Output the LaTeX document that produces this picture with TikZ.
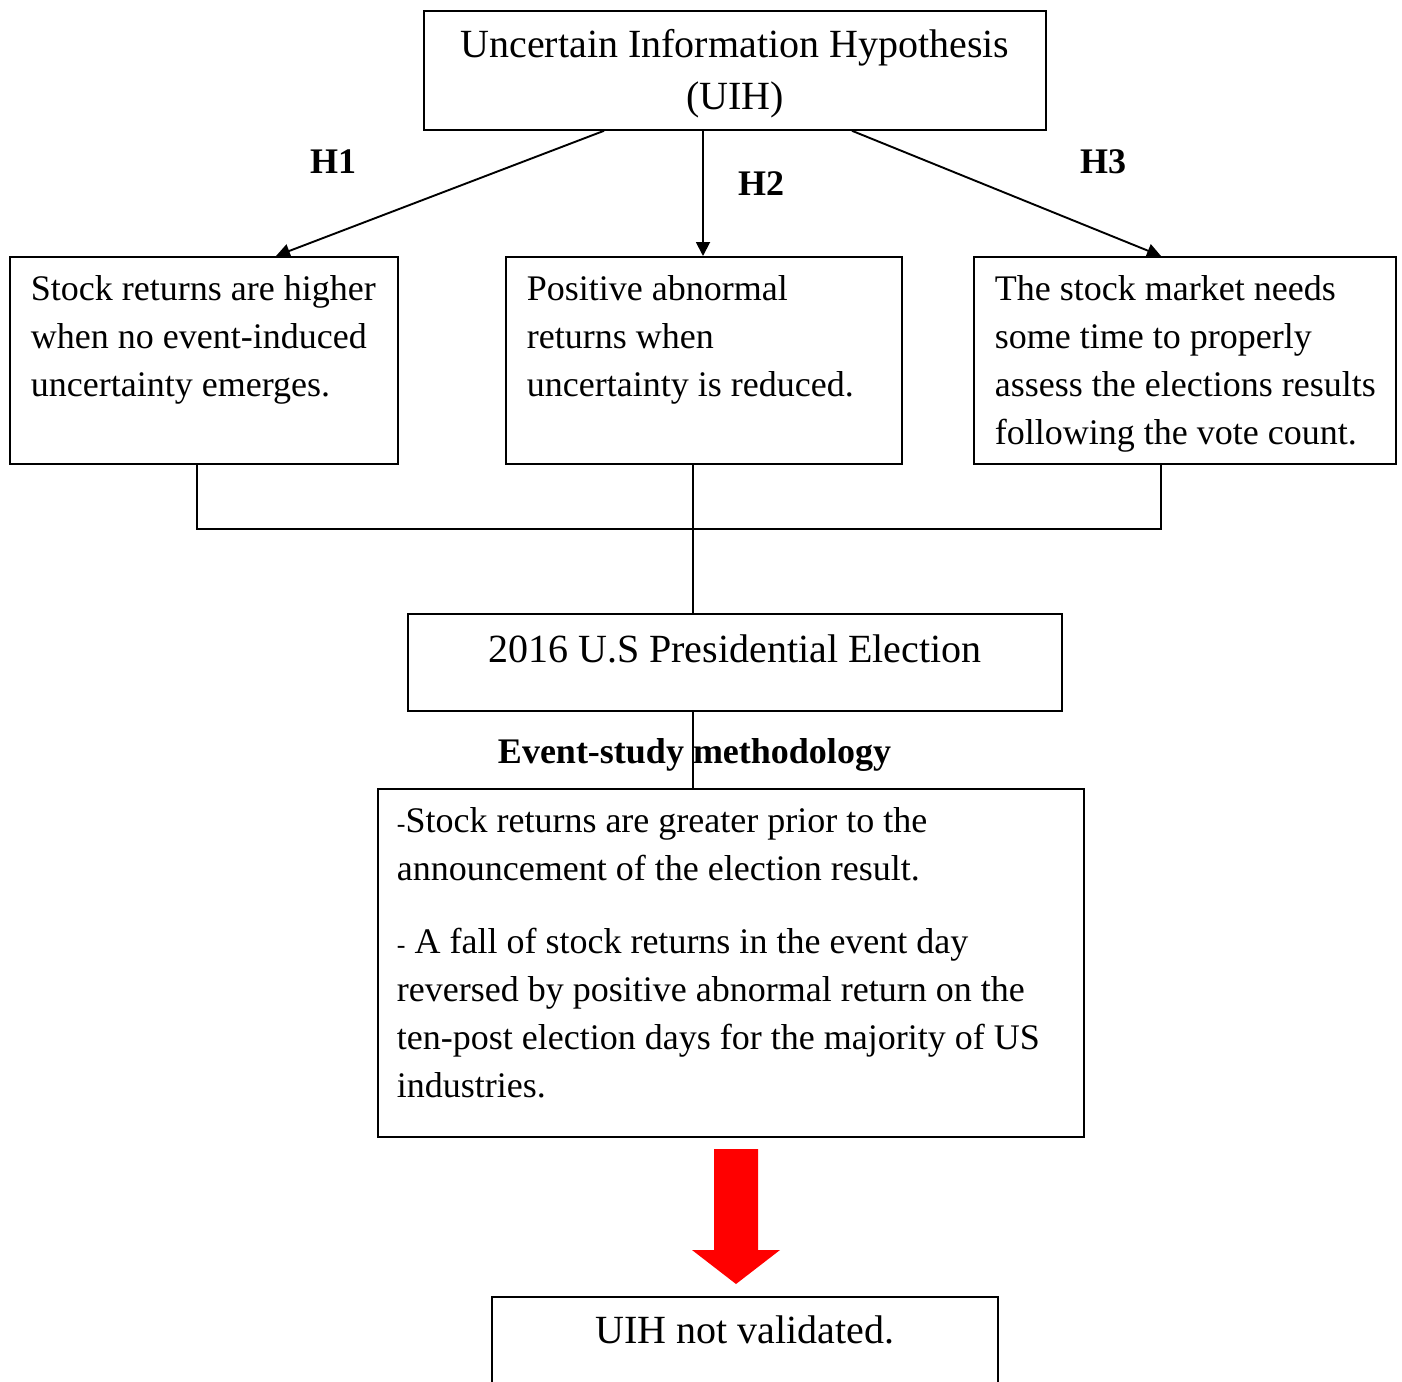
\documentclass[tikz,border=0pt]{standalone}
\usepackage{fontspec}
\setmainfont{Liberation Serif}
\usetikzlibrary{arrows.meta}
\newcommand\bodyfs{\fontsize{36}{48}\selectfont}
\newcommand\bigfs{\fontsize{40}{52}\selectfont}
\newcommand\smallhy{{\fontsize{26}{26}\selectfont -}}
\newcommand\lbox[3]{\makebox[#1][l]{\hspace*{#2}\begin{tabular}[t]{@{}l@{}}#3\end{tabular}}}
\newcommand\cbox[2]{\makebox[#1][c]{\begin{tabular}[t]{@{}c@{}}#2\end{tabular}}}
\begin{document}
\begin{tikzpicture}[x=1pt,y=-1pt,
  box/.style={draw, line width=1.8pt, inner sep=0pt, anchor=north west},
  conn/.style={line width=1.9pt},
  arr/.style={line width=1.9pt, -{Triangle[length=14pt,width=14pt]}},
  lab/.style={font=\bodyfs\bfseries, inner sep=0pt, anchor=base}]
\useasboundingbox (0,0) rectangle (1402,1381);
\clip (0,0) rectangle (1402,1381);
\fill[white] (0,0) rectangle (1402,1381);

% boxes
\node[box, text height=47pt, text depth=72pt] (top) at (423,10)
  {\bigfs\cbox{622pt}{Uncertain Information Hypothesis\\(UIH)}};
\node[box, text height=44pt, text depth=163pt] (b1) at (9,256)
  {\bodyfs\lbox{388pt}{21pt}{Stock returns are higher\\when no event-induced\\uncertainty emerges.}};
\node[box, text height=44pt, text depth=163pt] (b2) at (505,256)
  {\bodyfs\lbox{396pt}{21pt}{Positive abnormal\\returns when\\uncertainty is reduced.}};
\node[box, text height=44pt, text depth=163pt] (b3) at (973,256)
  {\bodyfs\lbox{422pt}{21pt}{The stock market needs\\some time to properly\\assess the elections results\\following the vote count.}};
\node[box, text height=49pt, text depth=48pt] (elec) at (407,613)
  {\bigfs\cbox{654pt}{2016 U.S Presidential Election}};
\node[box, text height=44pt, text depth=304pt] (meth) at (377,788)
  {\bodyfs\lbox{706pt}{19pt}{\smallhy Stock returns are greater prior to the\\announcement of the election result.\\[25pt]\smallhy\ A fall of stock returns in the event day\\reversed by positive abnormal return on the\\ten-post election days for the majority of US\\industries.}};
\node[box, text height=47pt, text depth=73pt] (fin) at (491,1296)
  {\bigfs\cbox{506pt}{UIH not validated.}};

% hypothesis arrows
\draw[arr] ([xshift=181pt]top.south west) -- ([xshift=267pt]b1.north west);
\draw[arr] ([xshift=280pt]top.south west) -- ([xshift=198pt]b2.north west);
\draw[arr] ([xshift=429pt]top.south west) -- ([xshift=188pt]b3.north west);
\node[lab] (h1) at (333,173) {H1};
\node[lab] (h2) at (761,195) {H2};
\node[lab] (h3) at (1103,173) {H3};

% joining lines
\draw[conn] ([xshift=188pt]b1.south west) -- ++(0,64) -| ([xshift=188pt]b3.south west);
\draw[conn] ([xshift=188pt]b2.south west) -- ([xshift=286pt]elec.north west);
\draw[conn] ([xshift=286pt]elec.south west) -- ([xshift=316pt]meth.north west);
\node[lab] (esm) at (694.5,763) {Event-study methodology};

% red block arrow
\fill[red] (714,1149) -- (758,1149) -- (758,1250) -- (780,1250) -- (736,1284)
  -- (692,1250) -- (714,1250) -- cycle;
\end{tikzpicture}
\end{document}
